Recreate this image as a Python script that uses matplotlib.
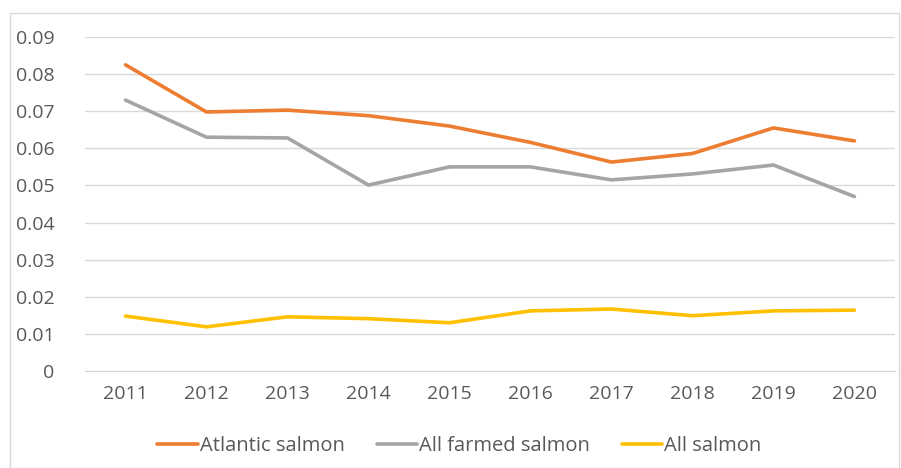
import matplotlib.pyplot as plt
from matplotlib.patches import Rectangle

years = ['2011', '2012', '2013', '2014', '2015', '2016', '2017', '2018', '2019', '2020']
atlantic = [0.0825, 0.0698, 0.0703, 0.0688, 0.0660, 0.0616, 0.0563, 0.0586, 0.0655, 0.0620]
farmed = [0.0730, 0.0630, 0.0628, 0.0501, 0.0550, 0.0550, 0.0515, 0.0531, 0.0555, 0.0470]
all_salmon = [0.0148, 0.0119, 0.0146, 0.0141, 0.0130, 0.0162, 0.0167, 0.0149, 0.0162, 0.0164]

plt.rcParams['font.family'] = ['Open Sans', 'DejaVu Sans']

fig = plt.figure(figsize=(9.01, 4.68), dpi=100)
ax = fig.add_axes([85 / 901, 1 - 371 / 468, 810 / 901, 334 / 468])

x = list(range(len(years)))
ax.plot(x, atlantic, color='#ED7D31', lw=2.6, label='Atlantic salmon', solid_capstyle='round')
ax.plot(x, farmed, color='#A5A5A5', lw=2.6, label='All farmed salmon', solid_capstyle='round')
ax.plot(x, all_salmon, color='#FFC000', lw=2.6, label='All salmon', solid_capstyle='round')

ax.set_xlim(-0.5, len(years) - 0.5)
ax.set_ylim(0, 0.09)
ax.set_yticks([i / 100 for i in range(10)])
ax.set_yticklabels(['0'] + [f'0.0{i}' for i in range(1, 10)])
ax.set_xticks(x)
ax.set_xticklabels(years)
ax.grid(axis='y', color='#D9D9D9', lw=1)
ax.set_axisbelow(True)
for s in ['top', 'right', 'left']:
    ax.spines[s].set_visible(False)
ax.spines['bottom'].set_color('#D9D9D9')
ax.tick_params(length=0, labelsize=14, colors='#595959')
ax.tick_params(axis='y', pad=22)
ax.tick_params(axis='x', pad=10)

leg = fig.legend(loc='center', bbox_to_anchor=(0.51, 1 - 446 / 468), ncol=3, frameon=False,
                 fontsize=14.5, handlelength=2.0, handletextpad=0.1, columnspacing=1.6)
for t in leg.get_texts():
    t.set_color('#595959')

fig.patches.append(Rectangle((10 / 901, 0.0), 889 / 901, 1 - 13 / 468, transform=fig.transFigure,
                             fill=False, edgecolor='#D9D9D9', lw=1))

fig.savefig('out.png', dpi=100)
